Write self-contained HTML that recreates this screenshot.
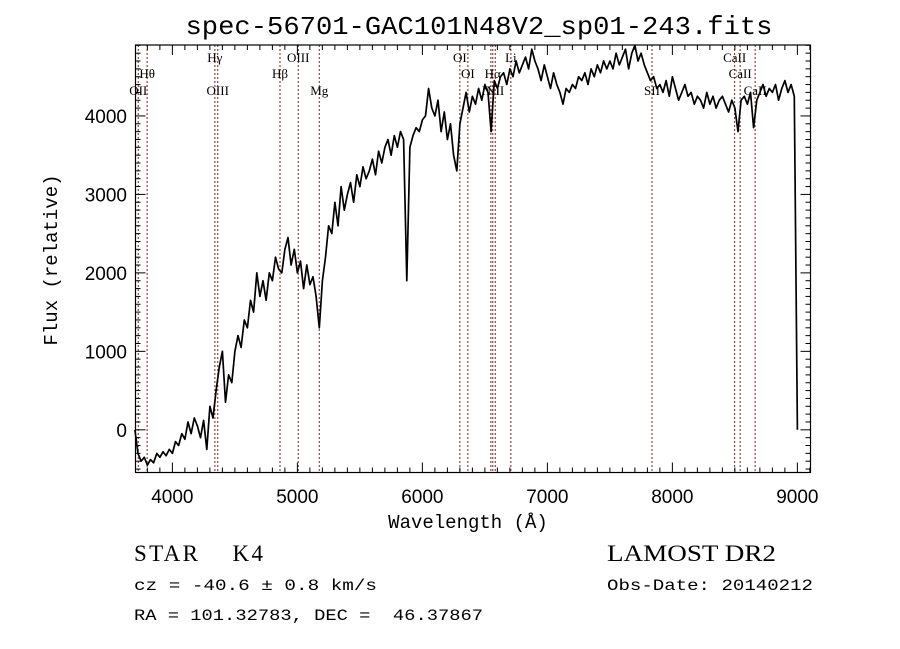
<!DOCTYPE html>
<html><head><meta charset="utf-8"><style>
html,body{margin:0;padding:0;background:#fff;}
svg{display:block;}
</style></head><body>
<svg id="chart" width="900" height="649" xmlns="http://www.w3.org/2000/svg">
<rect width="900" height="649" fill="#fff"/>
<text x="479" y="34" text-anchor="middle" font-family="Liberation Mono, monospace" font-size="26" textLength="587" lengthAdjust="spacingAndGlyphs">spec-56701-GAC101N48V2_sp01-243.fits</text>
<g id="lines"></g>
<g id="ticks"></g>
<path id="spec" fill="none" stroke="#000" stroke-width="1.7" stroke-linejoin="round"/>
<rect x="135.5" y="45" width="675" height="427.5" fill="none" stroke="#000" stroke-width="1.2"/>
<text x="468" y="528" text-anchor="middle" font-family="Liberation Mono, monospace" font-size="19">Wavelength (Å)</text>
<text transform="translate(57,260) rotate(-90)" text-anchor="middle" font-family="Liberation Mono, monospace" font-size="19">Flux (relative)</text>
<text x="134" y="561" font-family="Liberation Serif, serif" font-size="23" textLength="129" lengthAdjust="spacing" xml:space="preserve">STAR    K4</text>
<text x="607" y="561" font-family="Liberation Serif, serif" font-size="23" textLength="169" lengthAdjust="spacingAndGlyphs">LAMOST DR2</text>
<text x="134" y="590" font-family="Liberation Mono, monospace" font-size="16" textLength="243" lengthAdjust="spacingAndGlyphs">cz = -40.6 ± 0.8 km/s</text>
<text x="607" y="590" font-family="Liberation Mono, monospace" font-size="16" textLength="206" lengthAdjust="spacingAndGlyphs">Obs-Date: 20140212</text>
<text x="134" y="620" font-family="Liberation Mono, monospace" font-size="16" textLength="349" lengthAdjust="spacingAndGlyphs" xml:space="preserve">RA = 101.32783, DEC =  46.37867</text>
</svg>
<script>
const waveStart = 3700;
const waveStep = 25;
const flux = [
0,-300,-400,-350, -450,-380,-420,-300, -350,-280,-330,-250,
-300,-150,-200,-50, -120,100,-50,150, 50,-100,120,-250,
300,150,500,800, 1000,350,700,600, 1000,1200,1050,1400,
1300,1650,1500,2000, 1700,1900,1650,2000, 1900,2200,2050,2000,
2300,2450,2100,2300, 2000,2150,1800,2100, 1850,1950,1700,1300,
1900,2200,2600,2500, 2900,2600,3100,2800, 3000,3150,2900,3250,
3100,3350,3200,3300, 3450,3250,3550,3400, 3600,3700,3500,3750,
3600,3800,3700,1900, 3600,3750,3850,3800, 3950,4000,4350,4100,
4000,4200,3800,4050, 3700,3900,3500,3300, 3900,4100,4300,4050,
4250,4150,4350,4200, 4400,4300,3800,4450, 4350,4500,4550,4400,
4600,4500,4700,4550, 4650,4750,4600,4850, 4700,4600,4450,4650,
4500,4350,4550,4400, 4300,4150,4350,4300, 4400,4350,4500,4450,
4550,4400,4600,4500, 4650,4550,4700,4600, 4700,4600,4800,4650,
4750,4850,4600,4800, 4900,4700,4800,4650, 4550,4450,4500,4350,
4400,4300,4450,4250, 4500,4350,4200,4300, 4400,4250,4300,4150,
4250,4200,4100,4300, 4150,4250,4100,4200, 4250,4150,4050,4200,
4100,3800,4200,4250, 4150,4300,3850,4200, 4300,4400,4250,4350,
4300,4400,4200,4350, 4450,4300,4400,4250, 0];
const lineWaves = [3727,3798,4340,4363,4861,5007,5175,6300,6364,6548,6563,6583,6708,7837,8498,8542,8662];
const lineNames = ["OII","Hθ","Hγ","OIII","Hβ","OIII","Mg","OI","OI","NII","Hα","NII","Li","SII","CaII","CaII","CaII"];
const lineRows = [2,1,0,2,1,0,2,0,1,2,1,2,0,2,0,1,2];
const xTicks = [4000,5000,6000,7000,8000,9000];
const yTicks = [0,1000,2000,3000,4000];

const X0=135.5,X1=810.5,Y0=45,Y1=472.5,WMIN=3705,WMAX=9105,FMIN=-544,FMAX=4904;
function xs(w){return X0+(w-WMIN)/(WMAX-WMIN)*(X1-X0);}
function ys(f){return Y1-(f-FMIN)/(FMAX-FMIN)*(Y1-Y0);}
const NS="http://www.w3.org/2000/svg";
function mk(tag,attrs,parent){const e=document.createElementNS(NS,tag);for(const k in attrs)e.setAttribute(k,attrs[k]);parent.appendChild(e);return e;}

let d="";
flux.forEach((f,i)=>{const w=waveStart+i*waveStep;d+=(i?"L":"M")+xs(w).toFixed(1)+","+ys(f).toFixed(1);});
document.getElementById("spec").setAttribute("d",d);

const lg=document.getElementById("lines");
const rowY=[62,78,95];
lineWaves.forEach((w,i)=>{
  const x=xs(w);
  const l=mk("line",{x1:x,x2:x,y1:Y0,y2:Y1,stroke:"#8b1a1a","stroke-width":1,"stroke-dasharray":"2,2"},lg);
  
  
  const t=mk("text",{x:x,y:rowY[lineRows[i]],"text-anchor":"middle","font-family":"Liberation Serif, serif","font-size":"13"},lg);
  t.textContent=lineNames[i];
  
  
});

const tg=document.getElementById("ticks");
for(let w=3800;w<=9100;w+=100){
  const x=xs(w);const major=(w%1000===0);const len=major?10:5;
  const a=mk("line",{x1:x,x2:x,y1:Y1,y2:Y1-len,stroke:"#000","stroke-width":1},tg);
  
  
  const b=mk("line",{x1:x,x2:x,y1:Y0,y2:Y0+len,stroke:"#000","stroke-width":1},tg);
  
  
}
for(let f=-500;f<=4900;f+=100){
  const y=ys(f);const major=(f%1000===0);const len=major?10:5;
  const a=mk("line",{x1:X0,x2:X0+len,y1:y,y2:y,stroke:"#000","stroke-width":1},tg);
  
  
  const b=mk("line",{x1:X1,x2:X1-len,y1:y,y2:y,stroke:"#000","stroke-width":1},tg);
  
  
}
xTicks.forEach(w=>{
  const t=mk("text",{x:xs(w),y:503,"text-anchor":"middle","font-family":"Liberation Sans, sans-serif","font-size":"19"},tg);
  t.textContent=w;
  
  
});
yTicks.forEach(f=>{
  const t=mk("text",{x:127,y:ys(f)+7,"text-anchor":"end","font-family":"Liberation Sans, sans-serif","font-size":"19"},tg);
  t.textContent=f;
  
  
});
</script>
</body></html>
